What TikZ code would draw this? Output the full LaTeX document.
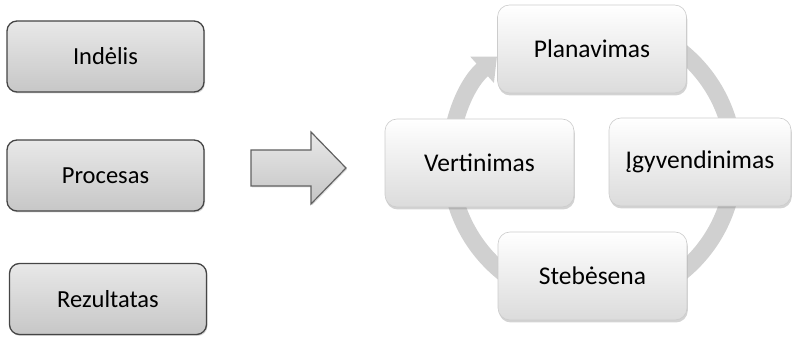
\documentclass[tikz,border=0pt]{standalone}
\usepackage{fontspec}
\setmainfont{Carlito}
\usetikzlibrary{shadows,arrows.meta}
\definecolor{ringgray}{HTML}{D0D0D0}
\definecolor{edgegray}{HTML}{454545}
\begin{document}
\begin{tikzpicture}[x=1pt,y=1pt,
  listbox/.style={rectangle, rounded corners=10pt, draw=edgegray, line width=1.3pt,
    top color=white!91!black, bottom color=white!78!black,
    minimum width=197pt, minimum height=71pt, inner sep=0pt,
    font=\fontsize{24.5}{28}\selectfont,
    drop shadow={shadow xshift=1pt, shadow yshift=-1.5pt, opacity=0.3}},
  cyclebox/.style={rectangle, rounded corners=12pt, draw=white!80!black, line width=0.6pt,
    top color=white, bottom color=white!86!black,
    minimum width=189pt, minimum height=88pt, inner sep=0pt,
    font=\fontsize{25.5}{30}\selectfont,
    drop shadow={shadow xshift=0.8pt, shadow yshift=-2.5pt, opacity=0.35}},
  blockarrow/.style={draw=edgegray!85, line width=1.2pt, line join=miter,
    top color=white!91!black, bottom color=white!77!black,
    drop shadow={shadow xshift=1pt, shadow yshift=-1.5pt, opacity=0.25}},
  cyclering/.style={draw=ringgray, line width=17pt,
    -{Triangle[length=20pt, width=34pt]}}
]
\useasboundingbox (0,0) rectangle (793,337);

% left column: input, process, result
\node[listbox] (in)   at (105.5,280.5) {Indėlis};
\node[listbox] (proc) at (105.5,161.5) {Procesas};
\node[listbox] (out)  at (108,38)      {Rezultatas};

% broad arrow between the two parts
\path[blockarrow] (251,187) coordinate (arrA) -- (311,187) -- (311,205)
  -- (346,169) coordinate (arrTip) -- (311,133) -- (311,151) -- (251,151) -- cycle;

% management cycle: ring behind the four stages
\coordinate (centre) at (592,175);
\draw[cyclering] (centre) ++(95:142) arc[start angle=95, end angle=-228, radius=142];

\node[cyclebox] (plan) at (592,288)   {Planavimas};
\node[cyclebox, minimum width=182pt] (impl) at (700,175) {Įgyvendinimas};
\node[cyclebox] (mon)  at (592.5,61)  {Stebėsena};
\node[cyclebox] (eval) at (479.5,174) {Vertinimas};
\end{tikzpicture}
\end{document}
